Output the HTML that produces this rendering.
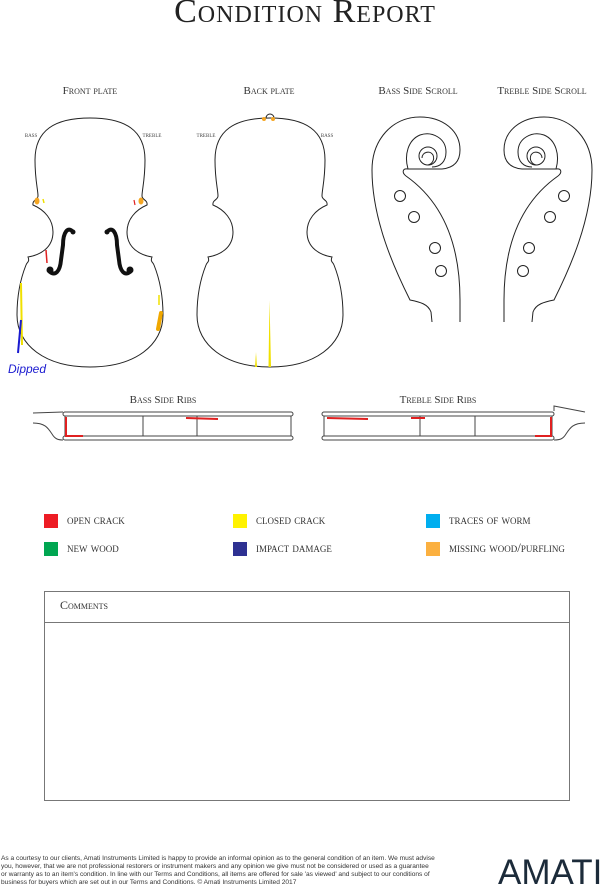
<!DOCTYPE html>
<html><head><meta charset="utf-8"><style>
html,body{margin:0;padding:0;background:#fff;}
body{width:600px;height:890px;position:relative;overflow:hidden;font-family:"Liberation Serif",serif;}
svg{position:absolute;left:0;top:0;}
.lab{font-family:"Liberation Serif",serif;font-variant:small-caps;fill:#333;font-size:11px;text-anchor:middle;}
.sm{font-family:"Liberation Serif",serif;font-variant:small-caps;fill:#444;font-size:7px;text-anchor:middle;}
.leg{font-family:"Liberation Serif",serif;font-variant:small-caps;fill:#333;font-size:13px;}
.foot{position:absolute;left:1px;top:855px;width:435px;font-family:"Liberation Sans",sans-serif;font-size:6.6px;line-height:8px;color:#333;}
.amati{position:absolute;left:498px;top:853px;font-family:"Liberation Sans",sans-serif;font-size:35px;color:#1c2b3a;letter-spacing:0px;}
</style></head><body>
<svg width="600" height="890" viewBox="0 0 600 890">
<text x="305" y="22" text-anchor="middle" style="font-family:'Liberation Serif',serif;font-variant:small-caps;font-size:34px;letter-spacing:1px" fill="#222">Condition Report</text>

<text class="lab" x="90" y="94">Front plate</text>
<text class="lab" x="269" y="94">Back plate</text>
<text class="lab" x="418" y="94">Bass Side Scroll</text>
<text class="lab" x="542" y="94">Treble Side Scroll</text>
<text class="sm" x="31" y="137">bass</text>
<text class="sm" x="152" y="137">treble</text>
<text class="sm" x="206" y="137">treble</text>
<text class="sm" x="327" y="137">bass</text>

<defs>
<path id="half" d="M0,118 C35,118 55,130 55,160 C55,180 52,190 52,196 C52,200 58,200 57,205 C45,210 37,220 37,232 C37,248 50,255 62,257 C60,262 63,262 64,265 C70,280 73,295 73,315 C73,345 45,367 0,367" fill="none" stroke="#222" stroke-width="1"/>
</defs>
<g transform="translate(90,0)"><use href="#half"/><use href="#half" transform="scale(-1,1)"/></g>
<g transform="translate(270,0)"><use href="#half"/><use href="#half" transform="scale(-1,1)"/></g>
<path d="M266,118 A4,4 0 1 1 274,118" fill="none" stroke="#222" stroke-width="1"/>

<g fill="none" stroke="#111" stroke-linecap="round">
<path d="M73,232 C68,226 63,232 63,245 L61,260 C60,272 55,276 50,272" stroke-width="4"/>
<circle cx="73" cy="232" r="2.5" fill="#111" stroke="none"/>
<circle cx="50" cy="270" r="3.5" fill="#111" stroke="none"/>
<path d="M107,232 C112,226 117,232 117,245 L119,260 C120,272 125,276 130,272" stroke-width="4"/>
<circle cx="107" cy="232" r="2.5" fill="#111" stroke="none"/>
<circle cx="130" cy="270" r="3.5" fill="#111" stroke="none"/>
</g>

<ellipse cx="37" cy="201" rx="2.5" ry="3.5" fill="#f5a623"/>
<line x1="43" y1="199" x2="44" y2="203" stroke="#f0e000" stroke-width="1.5"/>
<line x1="134" y1="200" x2="135" y2="205" stroke="#e02020" stroke-width="1.2"/>
<ellipse cx="141" cy="201" rx="2.5" ry="3.5" fill="#f5a623"/>
<line x1="46" y1="250" x2="47" y2="263" stroke="#e02020" stroke-width="1.5"/>
<line x1="21" y1="283" x2="22" y2="345" stroke="#f0e000" stroke-width="2"/>
<line x1="21" y1="320" x2="18" y2="353" stroke="#1a1ad0" stroke-width="2"/>
<line x1="159" y1="295" x2="159" y2="305" stroke="#f0e000" stroke-width="1.5"/>
<line x1="161" y1="313" x2="158" y2="329" stroke="#f0a800" stroke-width="4" stroke-linecap="round"/>
<circle cx="264" cy="119" r="2" fill="#f5a623"/>
<circle cx="273" cy="119" r="2" fill="#f5a623"/>
<polygon points="269.5,300 271,367 268.5,367" fill="#f0e000"/>
<polygon points="256,352 257,367 255,367" fill="#f0e000"/>
<text x="8" y="373" style="font-family:'Liberation Sans',sans-serif;font-size:12px;font-style:italic" fill="#1a1ad0">Dipped</text>

<g id="scroll" fill="none" stroke="#222" stroke-width="1">
<path d="M432,322 L431,312 C428,304 420,302 410,300 C395,270 372,220 372,170 C372,140 392,117 420,117 C442,117 460,130 460,150 C460,163 452,168 442,169 L408,169 C402,168 402,173 406,176 C440,200 460,240 460,300 L460,322"/>
<path d="M408,169 C404,155 408,140 420,135 C432,131 446,138 446,152 C446,162 440,167 432,167"/>
<circle cx="428" cy="156" r="9"/>
<path d="M422,158 C422,152 430,150 433,155 C435,160 432,164 428,165"/>
<circle cx="400" cy="196" r="5.5"/>
<circle cx="414" cy="217" r="5.5"/>
<circle cx="435" cy="248" r="5.5"/>
<circle cx="441" cy="271" r="5.5"/>
</g>
<use href="#scroll" transform="translate(964,0) scale(-1,1)"/>

<text class="lab" x="163" y="403">Bass Side Ribs</text>
<text class="lab" x="438" y="403">Treble Side Ribs</text>
<g fill="none" stroke="#444" stroke-width="1">
<rect x="63" y="412" width="230" height="4" rx="2"/>
<rect x="63" y="436" width="230" height="4" rx="2"/>
<line x1="65" y1="416" x2="65" y2="436"/><line x1="291" y1="416" x2="291" y2="436"/>
<line x1="143" y1="416" x2="143" y2="436"/><line x1="197" y1="416" x2="197" y2="436"/>
<path d="M33,413 L63,412 M33,423 C45,423 48,428 52,434 C55,439 58,440 63,440"/>
<rect x="322" y="412" width="232" height="4" rx="2"/>
<rect x="322" y="436" width="232" height="4" rx="2"/>
<line x1="324" y1="416" x2="324" y2="436"/><line x1="552" y1="416" x2="552" y2="436"/>
<line x1="420" y1="416" x2="420" y2="436"/><line x1="475" y1="416" x2="475" y2="436"/>
<path d="M554,411 L554,406 L585,412 M585,423 C573,423 570,428 566,434 C563,439 560,440 554,440"/>
</g>
<g stroke="#e02020" stroke-width="2" fill="none">
<path d="M66,417 L66,436 L83,436"/>
<path d="M186,418 L218,419"/>
<path d="M327,418 L368,419"/>
<path d="M411,418 L425,418"/>
<path d="M551,417 L551,436 L535,436"/>
</g>

<rect x="44" y="514" width="14" height="14" fill="#ed1c24"/>
<rect x="44" y="542" width="14" height="14" fill="#00a651"/>
<rect x="233" y="514" width="14" height="14" fill="#fff200"/>
<rect x="233" y="542" width="14" height="14" fill="#2e3192"/>
<rect x="426" y="514" width="14" height="14" fill="#00aeef"/>
<rect x="426" y="542" width="14" height="14" fill="#fbb040"/>
<text class="leg" x="67" y="524">open crack</text>
<text class="leg" x="67" y="552">new wood</text>
<text class="leg" x="256" y="524" fill="#111">closed crack</text>
<text class="leg" x="256" y="552">impact damage</text>
<text class="leg" x="449" y="524">traces of worm</text>
<text class="leg" x="449" y="552">missing wood/purfling</text>

<rect x="44.5" y="591.5" width="525" height="209" fill="none" stroke="#777" stroke-width="1"/>
<line x1="44.5" y1="622.5" x2="569.5" y2="622.5" stroke="#777"/>
<text x="60" y="609" style="font-family:'Liberation Serif',serif;font-variant:small-caps;font-size:12px" fill="#333">Comments</text>
</svg>
<div class="foot">As a courtesy to our clients, Amati Instruments Limited is happy to provide an informal opinion as to the general condition of an item. We must advise you, however, that we are not professional restorers or instrument makers and any opinion we give must not be considered or used as a guarantee or warranty as to an item's condition. In line with our Terms and Conditions, all items are offered for sale 'as viewed' and subject to our conditions of business for buyers which are set out in our Terms and Conditions. © Amati Instruments Limited 2017</div>
<div class="amati">AMATI</div>
</body></html>
